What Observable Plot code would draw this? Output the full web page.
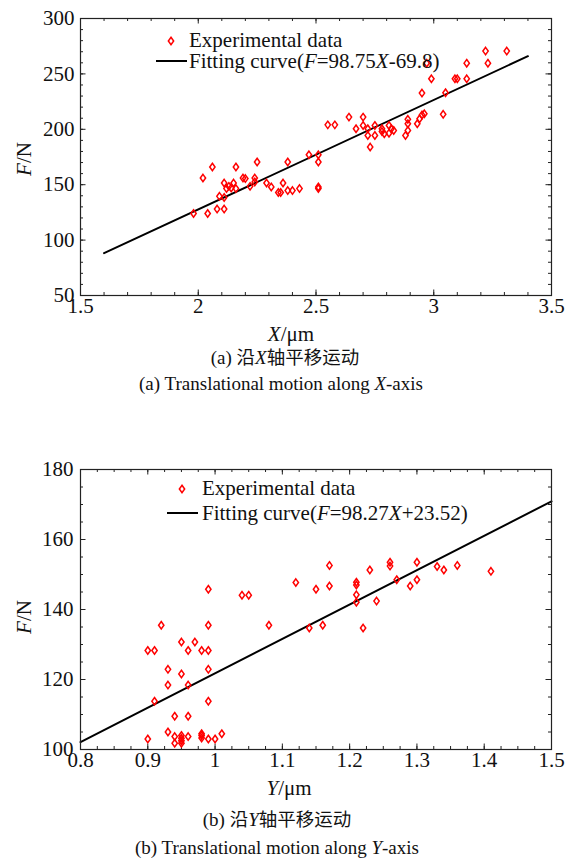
<!DOCTYPE html>
<html><head><meta charset="utf-8">
<script src="https://cdn.jsdelivr.net/npm/d3@7"></script>
<script src="https://cdn.jsdelivr.net/npm/@observablehq/plot@0.6"></script>
<style>
body{margin:0;background:#fff;}
#page{position:relative;width:573px;height:863px;font-family:"Liberation Serif","Times New Roman",serif;color:#111;overflow:hidden;}
#page svg text{font-family:"Liberation Serif","Times New Roman",serif;}
.t{position:absolute;white-space:nowrap;line-height:0.8;transform:translateY(-50%);}
.c{position:absolute;white-space:nowrap;line-height:0.95;text-align:center;transform:translate(-50%,-50%);}
.plot{position:absolute;left:0;}
.leg{font-size:21px;}
.cap{font-size:19px;}
.cjk{font-family:"Noto Sans CJK SC",sans-serif;font-size:18.5px;}
.lbl{font-size:21px;}
.line{position:absolute;height:2px;background:#000;}
.sym{position:absolute;}
</style></head>
<body><div id="page"></div>
<script>
// ---------- Panel (a): translation along X ----------
const x1 = [1.98,2.02,2.04,2.06,2.08,2.09,2.11,2.11,2.11,2.12,
  2.13,2.14,2.15,2.16,2.16,2.19,2.20,2.22,2.24,2.24,
  2.25,2.29,2.31,2.34,2.35,2.36,2.38,2.38,2.40,2.43,
  2.47,2.51,2.51,2.51,2.51,2.55,2.58,2.64,2.67,2.70,
  2.70,2.72,2.72,2.73,2.75,2.75,2.78,2.78,2.79,2.81,
  2.81,2.82,2.83,2.88,2.89,2.89,2.89,2.93,2.94,2.95,
  2.96,2.95,2.97,2.99,3.04,3.05,3.09,3.10,3.14,3.14,
  3.22,3.23,3.31];
const F1 = [124,156,124,166,128,139.5,128,151.5,138.5,146.5,
  148.5,147,151.5,166,146.5,156,155.5,148.5,152.5,156,
  170.5,151.5,148,143,143,151.5,170.5,144.7,144.7,146.5,
  177,177,170.5,148,146.5,204,204,211,200.5,211,
  203.5,200.5,194.5,184,203.5,194.5,200.5,198,196,203.5,
  196.5,200.5,199,194.5,199,205,209,205,209.5,213,
  214,232.7,259.7,245.6,213.5,233,245.6,245.6,259.7,245.6,
  270.6,259.7,270.6];
const fitX1 = [1.6, 3.4];
const fitF1 = [88.2, 266.0];
const xTicks1 = [1.5, 2, 2.5, 3, 3.5];
const yTicks1 = [50, 100, 150, 200, 250, 300];

// ---------- Panel (b): translation along Y ----------
const x2 = [0.90,0.90,0.91,0.91,0.92,0.93,0.93,0.93,0.94,0.94,
  0.94,0.95,0.95,0.95,0.95,0.95,0.95,0.96,0.96,0.96,
  0.96,0.97,0.98,0.98,0.98,0.98,0.99,0.99,0.99,0.99,
  0.99,0.99,1.00,1.01,1.04,1.05,1.08,1.12,1.14,1.15,
  1.16,1.17,1.17,1.21,1.21,1.21,1.21,1.22,1.23,1.24,
  1.26,1.26,1.27,1.29,1.30,1.30,1.33,1.34,1.36,1.41];
const F2 = [103,128.3,128.3,113.8,135.5,122.9,118.4,105,109.5,103.7,
  101.8,130.7,121.6,104,103.2,102.5,101.8,128.3,118.4,109.5,
  103.7,130.7,128.3,104.5,104,103.3,145.8,135.5,128.3,122.9,
  113.8,103,103,104.5,144.1,144.1,135.5,147.7,134.7,145.8,
  135.5,152.6,146.7,147.8,147,144.2,142.1,134.7,151.3,142.4,
  153.5,152.4,148.5,146.7,153.5,148.5,152.3,151.3,152.6,150.9];
const fitX2 = [0.8, 1.5];
const fitF2 = [102.1, 170.9];
const xTicks2 = [0.8, 0.9, 1, 1.1, 1.2, 1.3, 1.4, 1.5];
const yTicks2 = [100, 120, 140, 160, 180];

const legendLabels = ["Experimental data", "Fitting curve"];

// tall outlined diamond symbol
const diamond = {
  draw(ctx, size) {
    const r = Math.sqrt(size / Math.PI), w = r * 0.72;
    ctx.moveTo(0, -r); ctx.lineTo(w, 0); ctx.lineTo(0, r); ctx.lineTo(-w, 0); ctx.closePath();
  }
};

const SERIF = "'Liberation Serif', 'Times New Roman', serif";
const W = 573, ML = 80, MR = 22;
function panel({xs, fs, fitX, fitF, xMajor, yMajor, xMinorStep, yMinorStep, height, marginTop, marginBottom, xPad, yPad}) {
  const innerH = height - marginTop - marginBottom;
  const innerW = W - ML - MR;
  const xDomain = [xMajor[0], xMajor[xMajor.length - 1]];
  const yDomain = [yMajor[0], yMajor[yMajor.length - 1]];
  const xMinor = d3.range(xDomain[0], xDomain[1] + xMinorStep / 2, xMinorStep);
  const yMinor = d3.range(yDomain[0], yDomain[1] + yMinorStep / 2, yMinorStep);
  const pts = xs.map((x, i) => ({x, f: fs[i]}));
  const fit = fitX.map((x, i) => ({x, f: fitF[i]}));
  const tk = {stroke: "#222", strokeWidth: 1};
  return Plot.plot({
    width: W, height, marginLeft: ML, marginRight: MR, marginTop, marginBottom,
    style: {fontFamily: SERIF, fontSize: "21px", color: "#111", background: "transparent", overflow: "visible"},
    x: {domain: xDomain},
    y: {domain: yDomain},
    marks: [
      Plot.tickX(xMinor, {x: d => d, insetTop: innerH - 3, ...tk}),
      Plot.tickX(xMinor, {x: d => d, insetBottom: innerH - 3, ...tk}),
      Plot.tickX(xMajor, {x: d => d, insetTop: innerH - 5.5, ...tk}),
      Plot.tickX(xMajor, {x: d => d, insetBottom: innerH - 5.5, ...tk}),
      Plot.tickY(yMinor, {y: d => d, insetRight: innerW - 3, ...tk}),
      Plot.tickY(yMinor, {y: d => d, insetLeft: innerW - 3, ...tk}),
      Plot.tickY(yMajor, {y: d => d, insetRight: innerW - 5.5, ...tk}),
      Plot.tickY(yMajor, {y: d => d, insetLeft: innerW - 5.5, ...tk}),
      Plot.line(fit, {x: "x", y: "f", stroke: "#000", strokeWidth: 2}),
      Plot.dot(pts, {x: "x", y: "f", symbol: diamond, r: 3.7, stroke: "#ff0000", strokeWidth: 1.5, fill: "none"}),
      Plot.frame({stroke: "#222", strokeWidth: 1.2}),
      Plot.axisX(xMajor, {tickSize: 0, tickPadding: xPad, tickFormat: d => String(d), label: null, fontFamily: SERIF, fontSize: 21}),
      Plot.axisY(yMajor, {tickSize: 0, tickPadding: yPad, tickFormat: d => String(d), label: null, fontFamily: SERIF, fontSize: 21})
    ]
  });
}

const page = document.getElementById("page");
function add(html, cls, style) {
  const d = document.createElement("div");
  d.className = cls; d.innerHTML = html; Object.assign(d.style, style); page.appendChild(d); return d;
}
function place(svg, top) {
  const w = document.createElement("div"); w.className = "plot"; w.style.top = top + "px"; w.appendChild(svg); page.appendChild(w);
}
const symSvg = '<svg width="12" height="14" viewBox="-6 -7 12 14"><path d="M0,-3.7L2.66,0L0,3.7L-2.66,0Z" fill="none" stroke="#ff0000" stroke-width="1.5"/></svg>';

// Panel (a)
place(panel({xs: x1, fs: F1, fitX: fitX1, fitF: fitF1, xMajor: xTicks1, yMajor: yTicks1,
  xMinorStep: 0.1, yMinorStep: 10, height: 330, marginTop: 18, marginBottom: 35, xPad: 3, yPad: 6}), 0);
add(symSvg, "sym", {left: "165px", top: "34px"});
add(legendLabels[0], "t leg", {left: "189px", top: "40px"});
add("", "line", {left: "156px", top: "59.5px", width: "31px"});
add(legendLabels[1] + "(<i>F</i>=98.75<i>X</i>-69.8)", "t leg", {left: "189px", top: "61px"});
add("<i>F</i>/N", "c lbl", {left: "25px", top: "159px", transform: "translate(-50%,-50%) rotate(-90deg)"});
add("<i>X</i>/μm", "c lbl", {left: "291px", top: "335px"});
add('(a) <span class="cjk">沿</span><i>X</i><span class="cjk">轴平移运动</span>', "c cap", {left: "285px", top: "358px"});
add("(a) Translational motion along <i>X</i>-axis", "c cap", {left: "281px", top: "384px"});

// Panel (b)
place(panel({xs: x2, fs: F2, fitX: fitX2, fitF: fitF2, xMajor: xTicks2, yMajor: yTicks2,
  xMinorStep: 0.025, yMinorStep: 5, height: 330, marginTop: 19, marginBottom: 31, xPad: 3, yPad: 7}), 450);
add(symSvg, "sym", {left: "176px", top: "482px"});
add(legendLabels[0], "t leg", {left: "202px", top: "488px"});
add("", "line", {left: "167px", top: "512px", width: "31px"});
add(legendLabels[1] + "(<i>F</i>=98.27<i>X</i>+23.52)", "t leg", {left: "202px", top: "513px"});
add("<i>F</i>/N", "c lbl", {left: "25px", top: "617px", transform: "translate(-50%,-50%) rotate(-90deg)"});
add("<i>Y</i>/μm", "c lbl", {left: "289px", top: "789px"});
add('(b) <span class="cjk">沿</span><i>Y</i><span class="cjk">轴平移运动</span>', "c cap", {left: "277px", top: "820px"});
add("(b) Translational motion along <i>Y</i>-axis", "c cap", {left: "277px", top: "848px"});
</script>
</body></html>
